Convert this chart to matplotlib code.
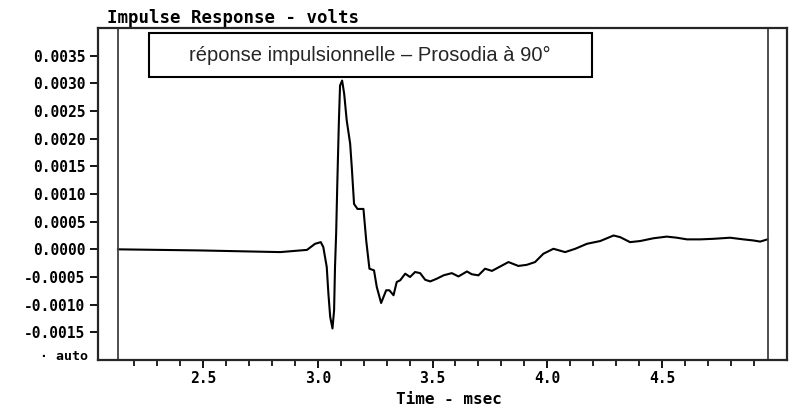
import matplotlib
matplotlib.use("Agg")
import matplotlib.pyplot as plt
from matplotlib.patches import Rectangle

# ---- data ----
time_ms = [2.129, 2.487, 2.836, 2.953, 2.988, 3.013, 3.024, 3.039, 3.046, 3.054,
           3.064, 3.071, 3.075, 3.080, 3.085, 3.092, 3.097, 3.106, 3.115, 3.126,
           3.141, 3.148, 3.158, 3.173, 3.199, 3.211, 3.225, 3.245, 3.257, 3.276,
           3.298, 3.312, 3.330, 3.344, 3.359, 3.381, 3.402, 3.424, 3.446, 3.468,
           3.490, 3.519, 3.548, 3.584, 3.613, 3.650, 3.671, 3.700, 3.729, 3.759,
           3.795, 3.831, 3.874, 3.911, 3.947, 3.983, 4.027, 4.078, 4.122, 4.173,
           4.231, 4.289, 4.318, 4.361, 4.405, 4.463, 4.521, 4.565, 4.609, 4.667,
           4.724, 4.797, 4.855, 4.899, 4.928, 4.960]
volts = [0.00000, -0.00002, -0.00005, -0.00001, 0.00010, 0.00013, 0.00004, -0.00032, -0.00079, -0.00122,
         -0.00143, -0.00110, -0.00032, 0.00029, 0.00119, 0.00233, 0.00296, 0.00305, 0.00281, 0.00233,
         0.00191, 0.00149, 0.00082, 0.00073, 0.00073, 0.00016, -0.00035, -0.00038, -0.00068, -0.00097,
         -0.00074, -0.00074, -0.00083, -0.00059, -0.00056, -0.00044, -0.00050, -0.00041, -0.00043, -0.00055,
         -0.00058, -0.00053, -0.00047, -0.00043, -0.00049, -0.00040, -0.00045, -0.00047, -0.00035, -0.00039,
         -0.00031, -0.00023, -0.00030, -0.00028, -0.00023, -0.00008, 0.00001, -0.00005, 0.00001, 0.00010,
         0.00015, 0.00025, 0.00022, 0.00013, 0.00015, 0.00020, 0.00023, 0.00021, 0.00018, 0.00018,
         0.00019, 0.00021, 0.00018, 0.00016, 0.00014, 0.00018]

y_ticks = [-0.0015, -0.0010, -0.0005, 0.0000, 0.0005, 0.0010, 0.0015, 0.0020, 0.0025, 0.0030, 0.0035]
y_tick_labels = ["-0.0015", "-0.0010", "-0.0005", "0.0000", "0.0005", "0.0010",
                 "0.0015", "0.0020", "0.0025", "0.0030", "0.0035"]
x_ticks = [2.5, 3.0, 3.5, 4.0, 4.5]
x_tick_labels = ["2.5", "3.0", "3.5", "4.0", "4.5"]
x_minor_ticks = [2.2, 2.3, 2.4, 2.6, 2.7, 2.8, 2.9, 3.1, 3.2, 3.3, 3.4, 3.6, 3.7, 3.8, 3.9,
                 4.1, 4.2, 4.3, 4.4, 4.6, 4.7, 4.8, 4.9]
cursors = [2.129, 4.963]

title = "Impulse Response - volts"
x_label = "Time - msec"
note = "réponse impulsionnelle – Prosodia à 90°"

# ---- figure ----
W, H = 798, 412
fig = plt.figure(figsize=(W / 100, H / 100), dpi=100)
ax = fig.add_axes([98 / W, 1 - 360 / H, (787 - 98) / W, (360 - 28) / H])

mono = dict(family="DejaVu Sans Mono", weight="bold")

ax.plot(time_ms, volts, color="black", lw=1.5)
for c in cursors:
    ax.axvline(c, color="0.25", lw=1.3)

ax.set_xlim(2.042, 5.045)
ax.set_ylim(-0.0020, 0.0040)

ax.set_yticks(y_ticks)
ax.set_yticklabels(y_tick_labels, fontsize=10.5, **mono)
ax.set_xticks(x_ticks)
ax.set_xticklabels(x_tick_labels, fontsize=10.5, **mono)
ax.set_xticks(x_minor_ticks, minor=True)
ax.tick_params(axis="y", direction="out", length=6, width=1.3, pad=3)
ax.tick_params(axis="x", which="major", direction="out", length=6, width=1.3, pad=2)
ax.tick_params(axis="x", which="minor", direction="out", length=4, width=1.2)

for s in ax.spines.values():
    s.set_linewidth(1.6)
    s.set_color("0.15")

# "auto" label at bottom of y axis
fig.text(88 / W, 1 - 357 / H, "· auto", ha="right", va="center", fontsize=9.5, **mono)

# title and x label
fig.text(107 / W, 1 - 18 / H, title, ha="left", va="center", fontsize=12.5, **mono)
fig.text(449 / W, 1 - 400 / H, x_label, ha="center", va="center", fontsize=11.5, **mono)

# annotation box
fig.patches.append(Rectangle((149 / W, 1 - 77 / H), (592 - 149) / W, (77 - 33) / H,
                             transform=fig.transFigure, facecolor="white",
                             edgecolor="black", lw=1.5, zorder=5))
fig.text(370 / W, 1 - 55 / H, note, ha="center", va="center", fontsize=14.5,
         family="Liberation Sans", color="0.15", zorder=6)

fig.savefig("out.png", dpi=100)
